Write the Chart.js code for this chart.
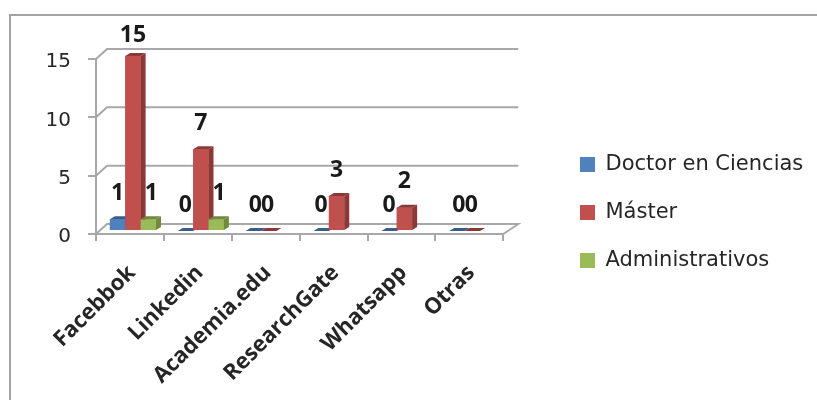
<!DOCTYPE html>
<html>
<head>
<meta charset="utf-8">
<style>
  html, body { margin: 0; background: #fff; }
  #frame { position: absolute; left: 9px; top: 14px; width: 808px; height: 386px; border-left: 2px solid #a3a3a3; border-top: 2px solid #a3a3a3; box-sizing: border-box; }
  canvas { position: absolute; left: 0; top: 0; filter: blur(0.5px); }
</style>
<script src="https://cdn.jsdelivr.net/npm/chart.js@4"></script>
</head>
<body>
<div id="frame"></div>
<canvas id="chart" width="817" height="400"></canvas>
<script>
const categories = ['Facebbok', 'Linkedin', 'Academia.edu', 'ResearchGate', 'Whatsapp', 'Otras'];
const doctorValues = [1, 0, 0, 0, 0, 0];
const masterValues = [15, 7, 0, 3, 2, 0];
const adminValues = [1, 1, null, null, null, null];
const yTicks = [0, 5, 10, 15];

const gridColor = '#a8a8a8';
const textColor = '#262626';

// bars sit a little behind the axis, like the excel 3d look
const barShift = { x: 3, y: -3 };
const depth = { x: 5, y: 3 };
const labelNudge = [0, 0, 3];

function faces(ctx, bar, dark) {
    const left = bar.x - bar.width / 2;
    const right = bar.x + bar.width / 2;
    ctx.fillStyle = dark;
    ctx.beginPath();
    ctx.moveTo(right, bar.y);
    ctx.lineTo(right + depth.x, bar.y - depth.y);
    ctx.lineTo(right + depth.x, bar.base - depth.y);
    ctx.lineTo(right, bar.base);
    ctx.fill();
    ctx.beginPath();
    ctx.moveTo(left, bar.y);
    ctx.lineTo(left + depth.x, bar.y - depth.y);
    ctx.lineTo(right + depth.x, bar.y - depth.y);
    ctx.lineTo(right, bar.y);
    ctx.fill();
}

const wallPlugin = {
    id: 'wall',
    beforeDatasetsDraw(chart) {
        const ctx = chart.ctx;
        const { left, right } = chart.chartArea;
        ctx.save();
        ctx.strokeStyle = gridColor;
        ctx.lineWidth = 2;
        yTicks.forEach(v => {
            const y = chart.scales.y.getPixelForValue(v);
            ctx.beginPath();
            ctx.moveTo(left, y);
            ctx.lineTo(left + 11, y - 10);
            ctx.lineTo(right + 15, y - 10);
            if (v === 0) ctx.lineTo(right, y);
            ctx.stroke();
        });
        ctx.restore();
        ctx.save();
        ctx.translate(barShift.x, barShift.y);
    },
    afterDatasetsDraw(chart) {
        const ctx = chart.ctx;
        // redraw left to right so each bar covers the side of the one before it
        chart.data.datasets.forEach((ds, i) => {
            chart.getDatasetMeta(i).data.forEach((bar, j) => {
                if (ds.data[j] === null) return;
                bar.draw(ctx);
                faces(ctx, bar, ds.sideColor);
            });
        });
        ctx.restore();
        // value labels
        ctx.save();
        ctx.font = 'bold 23px "Open Sans"';
        ctx.fillStyle = '#1a1a1a';
        ctx.textAlign = 'center';
        ctx.textBaseline = 'middle';
        chart.data.datasets.forEach((ds, i) => {
            chart.getDatasetMeta(i).data.forEach((bar, j) => {
                if (ds.data[j] === null) return;
                // the "00" pairs sit closer together than the bars
                const pair = ds.data[j] === 0 && masterValues[j] === 0 ? (i === 0 ? 2 : -1) : 0;
                ctx.fillText(ds.data[j], bar.x + barShift.x + labelNudge[i] + pair, Math.max(35, bar.y - 29));
            });
        });
        ctx.restore();
    },
    afterLayout(chart) {
        // legend is placed by hand, away from the plot
        const lg = chart.legend;
        lg.left = 553;
        lg.right = 817;
        lg.top -= 17;
        lg.bottom -= 17;
    }
};

new Chart(document.getElementById('chart'), {
    type: 'bar',
    data: {
        labels: categories,
        datasets: [
            { label: 'Doctor en Ciencias', data: doctorValues, backgroundColor: '#4f81bd', sideColor: '#385d8a' },
            { label: 'Máster', data: masterValues, backgroundColor: '#c0504d', sideColor: '#8c3836' },
            { label: 'Administrativos', data: adminValues, backgroundColor: '#9bbb59', sideColor: '#71893f' }
        ]
    },
    options: {
        responsive: false,
        animation: false,
        layout: { padding: { left: 0, right: 146, top: 59, bottom: 0 } },
        datasets: { bar: { categoryPercentage: 0.68, barPercentage: 1 } },
        plugins: {
            tooltip: { enabled: false },
            legend: {
                position: 'right',
                labels: { boxWidth: 15, boxHeight: 15, padding: 27, color: textColor, font: { family: '"DejaVu Sans"', size: 21 } }
            }
        },
        scales: {
            x: {
                afterFit: s => { s.height = 166; },
                border: { color: gridColor, width: 2 },
                grid: { drawOnChartArea: false, color: gridColor, lineWidth: 2, tickLength: 7 },
                ticks: { maxRotation: 45, minRotation: 45, labelOffset: 2, padding: 19, color: textColor, font: { family: '"Open Sans"', size: 22, weight: 'bold' } }
            },
            y: {
                min: 0,
                max: 15,
                afterFit: s => { s.width = 96; },
                afterBuildTicks: s => { s.ticks = yTicks.map(v => ({ value: v })); },
                border: { color: gridColor, width: 2 },
                grid: { drawOnChartArea: false, color: gridColor, lineWidth: 2, tickLength: 8 },
                ticks: { padding: 17, labelOffset: 3, color: textColor, font: { family: '"DejaVu Sans"', size: 20 } }
            }
        }
    },
    plugins: [wallPlugin]
});
</script>
</body>
</html>
